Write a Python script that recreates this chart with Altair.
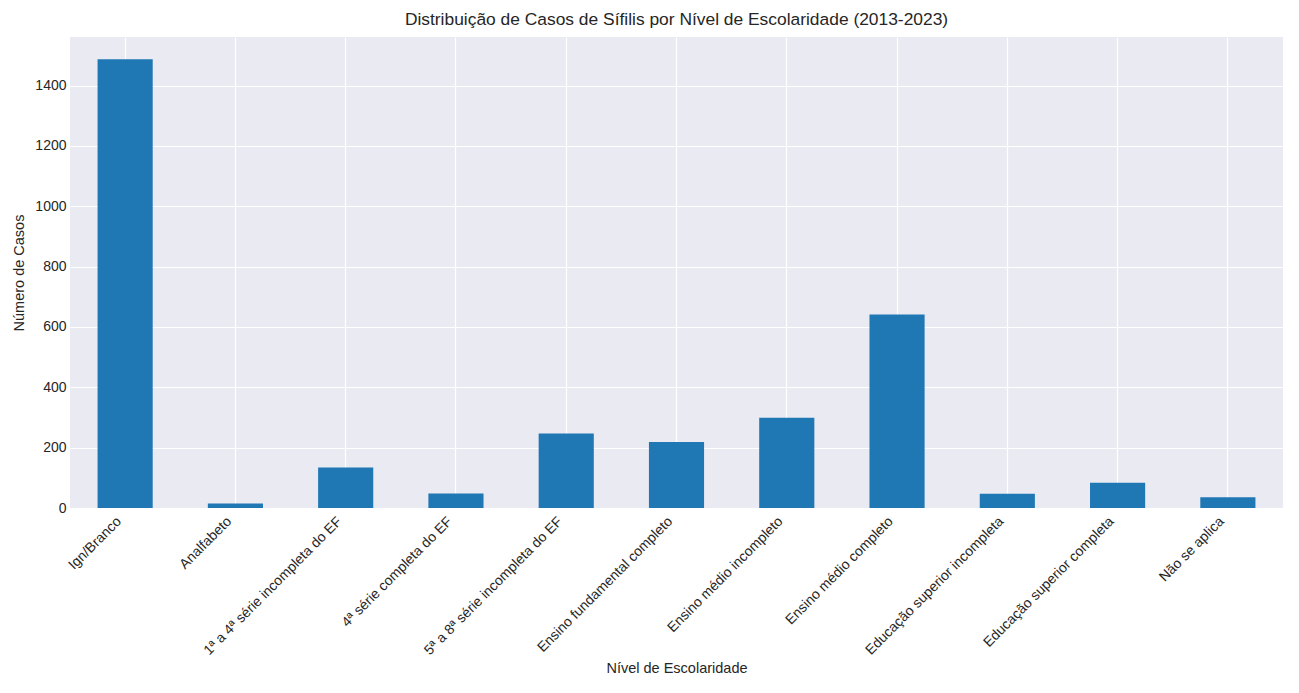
import altair as alt
import pandas as pd

categorias = [
    "Ign/Branco",
    "Analfabeto",
    "1ª a 4ª série incompleta do EF",
    "4ª série completa do EF",
    "5ª a 8ª série incompleta do EF",
    "Ensino fundamental completo",
    "Ensino médio incompleto",
    "Ensino médio completo",
    "Educação superior incompleta",
    "Educação superior completa",
    "Não se aplica",
]
casos = [1487, 15, 134, 48, 247, 219, 299, 641, 47, 84, 36]
y_ticks = [0, 200, 400, 600, 800, 1000, 1200, 1400]

df = pd.DataFrame({"nivel": categorias, "casos": casos})

FONT = "Liberation Sans"
TXT = "#262626"

chart = (
    alt.Chart(df)
    .mark_bar(color="#1f77b4")
    .encode(
        x=alt.X(
            "nivel:N",
            sort=categorias,
            title="Nível de Escolaridade",
            scale=alt.Scale(paddingInner=0.5, paddingOuter=0.25),
            axis=alt.Axis(
                labelAngle=-45,
                labelAlign="right",
                labelBaseline="middle",
                labelPadding=11,
                labelOffset=-6,
                bandPosition=0.5,
                titlePadding=4,
                labelLimit=400,
            ),
        ),
        y=alt.Y(
            "casos:Q",
            title="Número de Casos",
            scale=alt.Scale(domain=[0, 1561], nice=False),
            axis=alt.Axis(values=y_ticks, format="d", titlePadding=8, labelPadding=4),
        ),
    )
    .properties(
        width=1213,
        height=471,
        title=alt.TitleParams(
            "Distribuição de Casos de Sífilis por Nível de Escolaridade (2013-2023)",
            fontSize=17.4,
            font=FONT,
            fontWeight="normal",
            color=TXT,
            offset=9,
        ),
        padding={"left": 62, "top": 29, "right": 8, "bottom": 177},
        autosize="none",
    )
    .configure_view(fill="#EAEAF2", stroke=None)
    .configure_axis(
        grid=True,
        gridColor="white",
        gridWidth=1.2,
        domain=False,
        ticks=False,
        labelFont=FONT,
        labelFontSize=14,
        labelColor=TXT,
        titleFont=FONT,
        titleFontSize=14.5,
        titleFontWeight="normal",
        titleColor=TXT,
    )
)

chart.save("out.html", embed_options={"renderer": "svg", "actions": False})
